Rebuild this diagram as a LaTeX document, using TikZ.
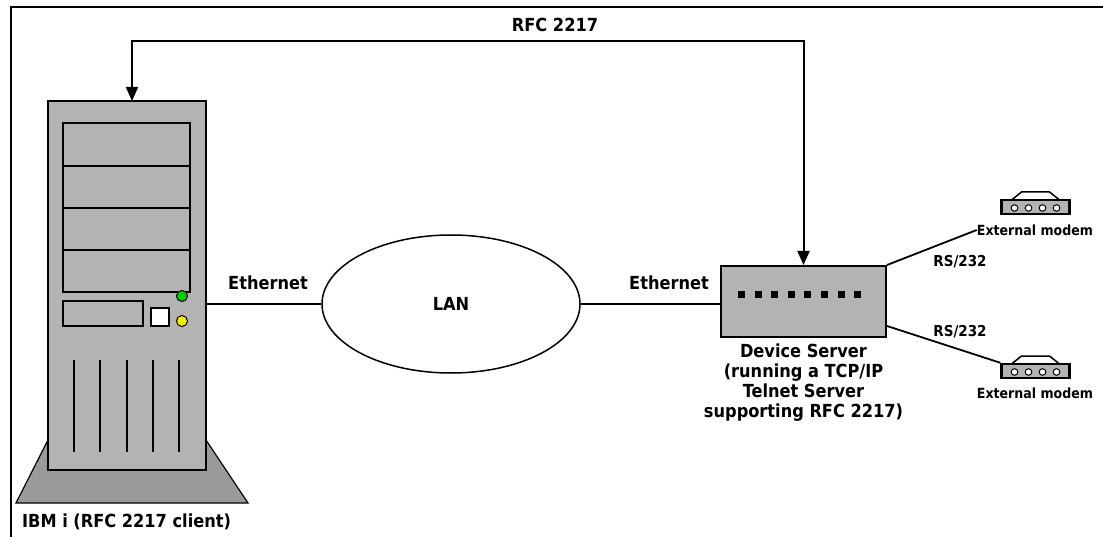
\documentclass[tikz,border=0pt]{standalone}
\usepackage{fontspec}
\setmainfont{DejaVu Sans Condensed}
\usetikzlibrary{arrows.meta,shapes.geometric}
\definecolor{casegray}{HTML}{B3B3B3}
\definecolor{basegray}{HTML}{9A9A9A}
\definecolor{ledgreen}{HTML}{00D000}
\definecolor{ledyellow}{HTML}{F0F000}
\tikzset{
  pics/modem/.style={code={
    \draw[line width=1.5pt, fill=white] (-24,-7) -- (-14,-15) -- (14,-15) -- (24,-7);
    \node[modembody] (-body) at (0,0) {};
    \foreach \cx in {-21,-7,7,21}
      \draw[line width=1pt, fill=white] (\cx,1) circle (3.3pt);
  }}
}
\begin{document}
\begin{tikzpicture}[x=1pt,y=-1pt,
  lbl/.style={font=\bfseries\fontsize{18}{20}\selectfont, inner sep=0pt},
  small/.style={font=\bfseries\fontsize{14}{16}\selectfont, inner sep=0pt},
  wire/.style={line width=1.8pt},
  link/.style={line width=2pt,
    {Triangle[length=14pt,width=12pt]}-{Triangle[length=14pt,width=12pt]}},
  bay/.style={draw, line width=1.5pt, fill=casegray},
  vent/.style={line width=1.5pt},
  modembody/.style={draw, line width=2.5pt, fill=casegray,
    minimum width=68pt, minimum height=14pt, inner sep=0pt},
  box/.style={draw, line width=2pt, fill=casegray, inner sep=0pt}
]
\useasboundingbox (0,0) rectangle (1103,537);
\fill[white] (0,0) rectangle (1103,537);

% page frame (left and top rules)
\draw[line width=2pt] (11,537) -- (11,7) -- (1103,7);

% ---- IBM i tower ----
\draw[line width=1.2pt, fill=basegray] (16,503) -- (48,440) -- (206,440) -- (248,503) -- cycle;
\node[box, minimum width=158pt, minimum height=369pt] (tower) at (127,285.5) {};
\draw[bay] (63,123) rectangle (190,166);
\draw[bay] (63,166) rectangle (190,208);
\draw[bay] (63,208) rectangle (190,250);
\draw[bay] (63,250) rectangle (190,292);
\draw[bay] (63,301) rectangle (143,326);
\draw[line width=1.2pt, fill=white] (151,308) rectangle (169,326);
\draw[line width=1pt, fill=ledgreen] (182,296) circle (5.5pt);
\draw[line width=1pt, fill=ledyellow] (182,321) circle (5.5pt);
\foreach \vx in {74,100,127,153,179}
  \draw[vent] (\vx,360) -- (\vx,452);
\node[lbl, anchor=west, font=\bfseries\fontsize{18}{20}\selectfont] (ibm) at (22,522) {IBM i (RFC 2217 client)};

% ---- LAN ----
\node[draw, ellipse, line width=1.5pt, minimum width=258pt, minimum height=138pt,
  inner sep=0pt, font=\bfseries\fontsize{18}{20}\selectfont] (lan) at (451,304) {LAN};

% ---- Device server ----
\node[box, minimum width=165pt, minimum height=71pt] (ds) at (803.5,301.5) {};
\foreach \i in {0,...,7}
  \fill ({738+16.6*\i},291) rectangle ++(7,7);
\node[lbl, align=center] (dstext) at (803.5,383)
  {Device Server\\(running a TCP/IP\\Telnet Server\\supporting RFC 2217)};

% ---- Ethernet links ----
\draw[wire] (tower.east |- lan.west) -- (lan.west);
\draw[wire] (lan.east) -- (ds.west |- lan.east);
\node[lbl] (eth1) at (268,283) {Ethernet};
\node[lbl] (eth2) at (669,283) {Ethernet};

% ---- RFC 2217 session ----
\coordinate (tt) at (132,101);
\coordinate (bar) at (467,41);
\draw[link] (tt) |- (bar) -| (ds.north);
\node[lbl] (rfc) at (555,25) {RFC 2217};

% ---- External modems ----
\pic (m1) at (1035.5,207) {modem};
\pic (m2) at (1035.5,371) {modem};
\node[small] (em1) at (1035,230) {External modem};
\node[small] (em2) at (1035,393) {External modem};
\draw[wire] (ds.north east) -- (em1.west);
\draw[wire] ([yshift=12pt]ds.south east) -- (m2-body.north west);
\node[small, font=\bfseries\fontsize{15}{16}\selectfont] (rs1) at (960,262) {RS/232};
\node[small, font=\bfseries\fontsize{15}{16}\selectfont] (rs2) at (960,332) {RS/232};
\end{tikzpicture}
\end{document}
